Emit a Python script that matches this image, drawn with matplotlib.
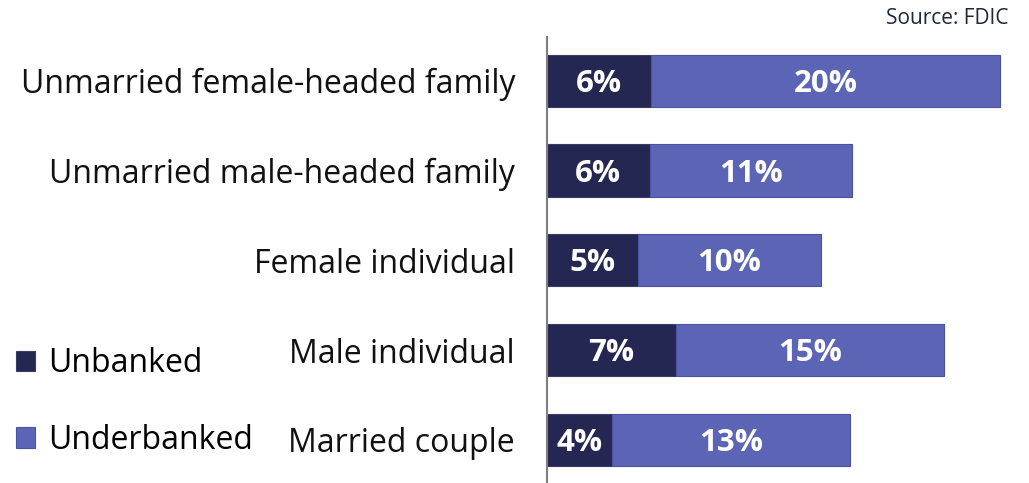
import matplotlib
matplotlib.use("Agg")
import matplotlib.pyplot as plt
from matplotlib.patches import Patch

categories = ["Unmarried female-headed family", "Unmarried male-headed family",
              "Female individual", "Male individual", "Married couple"]
unbanked = [5.86, 5.79, 5.11, 7.25, 3.65]
underbanked = [19.66, 11.41, 10.31, 15.13, 13.44]
unbanked_labels = ["6%", "6%", "5%", "7%", "4%"]
underbanked_labels = ["20%", "11%", "10%", "15%", "13%"]
series_names = ["Unbanked", "Underbanked"]

c_unb = "#252753"
c_und = "#5c64b6"
font = ["Open Sans", "DejaVu Sans"]
plt.rcParams["font.family"] = font

W, H = 1029, 483
fig = plt.figure(figsize=(W / 100, H / 100), dpi=100)
ax = fig.add_axes([547 / W, 0, (W - 547) / W, (H - 36.7) / H])

y = list(range(len(categories)))
ax.barh(y, unbanked, height=0.58, color=c_unb, edgecolor="#3a3c60", linewidth=0.8)
ax.barh(y, underbanked, left=unbanked, height=0.58, color=c_und,
        edgecolor="#4a52a2", linewidth=0.8)

for i in y:
    ax.text(unbanked[i] / 2, i + 0.035, unbanked_labels[i], ha="center", va="center",
            color="white", fontsize=22.5, fontweight="bold")
    ax.text(unbanked[i] + underbanked[i] / 2, i + 0.035, underbanked_labels[i], ha="center",
            va="center", color="white", fontsize=22.5, fontweight="bold")

ax.set_xlim(0, (W - 547) / 17.75)
ax.set_ylim(4.48, -0.49)
ax.set_yticks(y)
ax.set_yticklabels(categories, fontsize=23, color="#111111")
ax.tick_params(axis="y", length=0, pad=23)
ax.set_xticks([])
for s in ["top", "right", "bottom"]:
    ax.spines[s].set_visible(False)
ax.spines["left"].set_color("#7f7f7f")
ax.spines["left"].set_linewidth(1.5)

handles = [Patch(facecolor=c_unb, edgecolor="#3a3c60", linewidth=0.8),
           Patch(facecolor=c_und, edgecolor="#4a52a2", linewidth=0.8)]
fig.legend(handles, series_names, loc="center left", bbox_to_anchor=(16 / W, 1 - 402 / H),
           frameon=False, fontsize=23, handlelength=0.6, handleheight=0.6,
           handletextpad=0.4, labelspacing=1.36, borderpad=0, borderaxespad=0)

fig.text(1008 / W, 1 - 18 / H, "Source: FDIC", ha="right", va="center",
         fontsize=15, color="#1b2a3a")

fig.savefig("out.png", dpi=100)
